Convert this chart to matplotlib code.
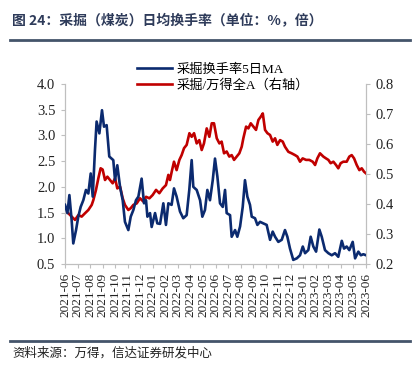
import matplotlib
matplotlib.use("Agg")
import matplotlib.pyplot as plt
from matplotlib.lines import Line2D

plt.rcParams['font.family'] = ['Liberation Serif', 'Noto Sans CJK SC', 'DejaVu Sans']

# months since 2021-06 (x) and values
turn_t = [0.0, 0.19, 0.35, 0.53, 0.66, 0.88, 1.06, 1.25, 1.46, 1.67, 1.86, 2.05, 2.21, 2.39,
          2.52, 2.74, 2.95, 3.11, 3.32, 3.53, 3.85, 3.99, 4.17, 4.39, 4.6, 4.78, 5.05, 5.24,
          5.45, 5.66, 5.85, 6.11, 6.3, 6.46, 6.57, 6.78, 6.91, 7.18, 7.36, 7.58, 7.84, 8.05,
          8.24, 8.5, 8.69, 8.9, 9.17, 9.43, 9.7, 9.91, 10.1, 10.23, 10.5, 10.77, 10.95, 11.16,
          11.35, 11.56, 11.78, 11.96, 12.15, 12.36, 12.58, 12.76, 12.89, 13.16, 13.29, 13.56,
          13.74, 13.96, 14.17, 14.35, 14.54, 14.75, 14.89, 15.15, 15.34, 15.55, 15.81, 16.08,
          16.35, 16.56, 16.75, 17.01, 17.28, 17.54, 17.73, 17.94, 18.2, 18.48, 18.74, 18.96,
          19.14, 19.4, 19.59, 19.8, 20.02, 20.28, 20.47, 20.73, 21.0, 21.27, 21.53, 21.79,
          22.07, 22.25, 22.46, 22.67, 22.94, 23.13, 23.39, 23.59, 23.79, 24.0]
turn_ma5 = [1.65, 1.49, 1.84, 1.35, 0.9, 1.16, 1.42, 1.61, 1.74, 1.94, 1.87, 2.26, 1.81, 2.72,
            3.27, 3.04, 3.49, 3.17, 3.2, 2.59, 2.52, 2.13, 2.42, 2.0, 1.74, 1.32, 1.16, 1.42,
            1.55, 1.74, 1.81, 2.16, 1.68, 1.74, 1.42, 1.49, 1.22, 1.49, 1.29, 1.28, 1.68, 1.26,
            1.68, 1.65, 1.97, 1.81, 1.52, 1.39, 1.45, 1.94, 2.52, 2.0, 1.94, 1.74, 1.42, 1.55,
            1.94, 1.74, 2.13, 2.55, 2.2, 1.68, 1.61, 1.94, 1.49, 1.45, 1.03, 1.16,
            1.03, 1.23, 1.61, 2.13, 1.81, 1.65, 1.42, 1.39, 1.26, 1.32, 1.29, 1.26,
            0.97, 1.13, 1.03, 0.93, 0.97, 1.16, 1.03, 0.8, 0.58, 0.61, 0.67, 0.84,
            0.71, 0.77, 1.03, 0.84, 0.74, 1.17, 1.03, 0.77, 0.71, 0.67, 0.71, 0.64,
            0.95, 0.8, 0.84, 0.77, 0.93, 0.61, 0.74, 0.67, 0.69, 0.67]

ratio_t = [0.0, 0.27, 0.53, 0.8, 1.06, 1.33, 1.59, 1.86, 2.13, 2.26, 2.47, 2.66, 2.84, 3.0,
           3.19, 3.38, 3.59, 3.8, 3.99, 4.17, 4.39, 4.6, 4.78, 5.05, 5.24, 5.45, 5.72, 5.98,
           6.25, 6.46, 6.73, 6.99, 7.26, 7.52, 7.79, 8.05, 8.24, 8.37, 8.51, 8.69, 8.9, 9.12,
           9.3, 9.49, 9.7, 9.92, 10.1, 10.29, 10.5, 10.71, 10.9, 11.08, 11.3, 11.51, 11.7,
           11.88, 12.1, 12.31, 12.49, 12.68, 12.89, 13.1, 13.29, 13.48, 13.69, 13.9, 14.09,
           14.22, 14.44, 14.62, 14.81, 15.02, 15.23, 15.42, 15.61, 15.77, 15.95, 16.14, 16.35,
           16.56, 16.75, 16.93, 17.15, 17.36, 17.54, 17.81, 18.07, 18.34, 18.53, 18.74, 18.95,
           19.22, 19.48, 19.75, 19.94, 20.12, 20.33, 20.6, 20.81, 21.0, 21.18, 21.4, 21.61,
           21.79, 21.98, 22.19, 22.46, 22.67, 22.86, 23.05, 23.26, 23.47, 23.66, 23.84, 24.0]
ratio_a = [0.38, 0.369, 0.358, 0.347, 0.363, 0.358, 0.369, 0.38, 0.397, 0.413, 0.447, 0.486,
           0.519, 0.515, 0.48, 0.491, 0.48, 0.469, 0.486, 0.452, 0.458, 0.419, 0.397, 0.38,
           0.386, 0.397, 0.402, 0.419, 0.408, 0.424, 0.419, 0.43, 0.447, 0.436, 0.452, 0.463,
           0.497, 0.48, 0.508, 0.541, 0.513, 0.547, 0.563, 0.586, 0.597, 0.636, 0.624, 0.636,
           0.602, 0.613, 0.58, 0.602, 0.652, 0.624, 0.669, 0.669, 0.619, 0.602, 0.608, 0.569,
           0.575, 0.558, 0.563, 0.547, 0.558, 0.569, 0.591, 0.619, 0.658, 0.652, 0.669, 0.658,
           0.647, 0.68, 0.691, 0.702, 0.647, 0.636, 0.63, 0.608, 0.619, 0.597, 0.613, 0.608,
           0.591, 0.574, 0.569, 0.563, 0.558, 0.541, 0.552, 0.547, 0.547, 0.541, 0.53, 0.552,
           0.569, 0.558, 0.552, 0.547, 0.536, 0.541, 0.53, 0.519, 0.536, 0.541, 0.541, 0.558,
           0.563, 0.552, 0.53, 0.513, 0.519, 0.508, 0.502]

month_labels = ['2021-06', '2021-07', '2021-08', '2021-09', '2021-10', '2021-11', '2021-12',
                '2022-01', '2022-02', '2022-03', '2022-04', '2022-05', '2022-06', '2022-07',
                '2022-08', '2022-09', '2022-10', '2022-11', '2022-12', '2023-01', '2023-02',
                '2023-03', '2023-04', '2023-05', '2023-06']

blue = '#0b2a6f'
red = '#c00000'
grey = '#bfbfbf'

fig = plt.figure(figsize=(4.2, 3.73), dpi=100)
ax = fig.add_axes([65/420, 1-264/373, (366-65)/420, (264-84)/373])
ax2 = ax.twinx()

l1, = ax.plot(turn_t, turn_ma5, color=blue, lw=1.9, label='采掘换手率5日MA', zorder=3)
l2, = ax2.plot(ratio_t, ratio_a, color=red, lw=1.9, label='采掘/万得全A（右轴）')
ax.set_zorder(ax2.get_zorder() + 1)
ax.patch.set_visible(False)

ax.set_xlim(0, 24)
ax.set_ylim(0.5, 4.0)
ax2.set_ylim(0.2, 0.8)
ax.set_yticks([0.5, 1.0, 1.5, 2.0, 2.5, 3.0, 3.5, 4.0])
ax2.set_yticks([0.2, 0.3, 0.4, 0.5, 0.6, 0.7, 0.8])
ax.set_yticklabels(['%.1f' % v for v in ax.get_yticks()], fontsize=10.5)
ax2.set_yticklabels(['%.1f' % v for v in ax2.get_yticks()], fontsize=10.5)
ax.set_xticks(range(25))
ax.set_xticklabels(month_labels, rotation=90, fontsize=9.5)

for a in (ax, ax2):
    a.spines['top'].set_visible(False)
    for s in ('left', 'right', 'bottom'):
        a.spines[s].set_color(grey)
    a.tick_params(colors=grey, labelcolor='#222222', length=3, width=0.8)
ax.tick_params(axis='y', pad=4)
ax2.tick_params(axis='y', pad=4)

fig.legend(handles=[l1, l2], loc='upper left', bbox_to_anchor=(132/420, 1-58/373),
           frameon=False, prop={'family': ['Liberation Serif', 'Noto Sans CJK SC'], 'size': 9.5},
           handlelength=2.6, handletextpad=0.4, labelspacing=0.25, borderaxespad=0)

fig.text(12/420, 1-20/373, '图 24：采掘（煤炭）日均换手率（单位：%，倍）',
         family=['Noto Sans CJK SC', 'DejaVu Sans'], fontweight='bold', fontsize=10,
         color='#2e3b5a', va='center', ha='left')
fig.add_artist(Line2D([10/420, 410/420], [1-40/373]*2, color='#44546a', lw=2))
fig.add_artist(Line2D([10/420, 410/420], [1-341/373]*2, color='#44546a', lw=2))
fig.text(12/420, 1-353/373, '资料来源：万得，信达证券研发中心',
         family=['Noto Sans CJK SC', 'DejaVu Sans'], fontsize=9, color='#222222',
         va='center', ha='left')

fig.savefig('out.png', dpi=100, facecolor='white')
